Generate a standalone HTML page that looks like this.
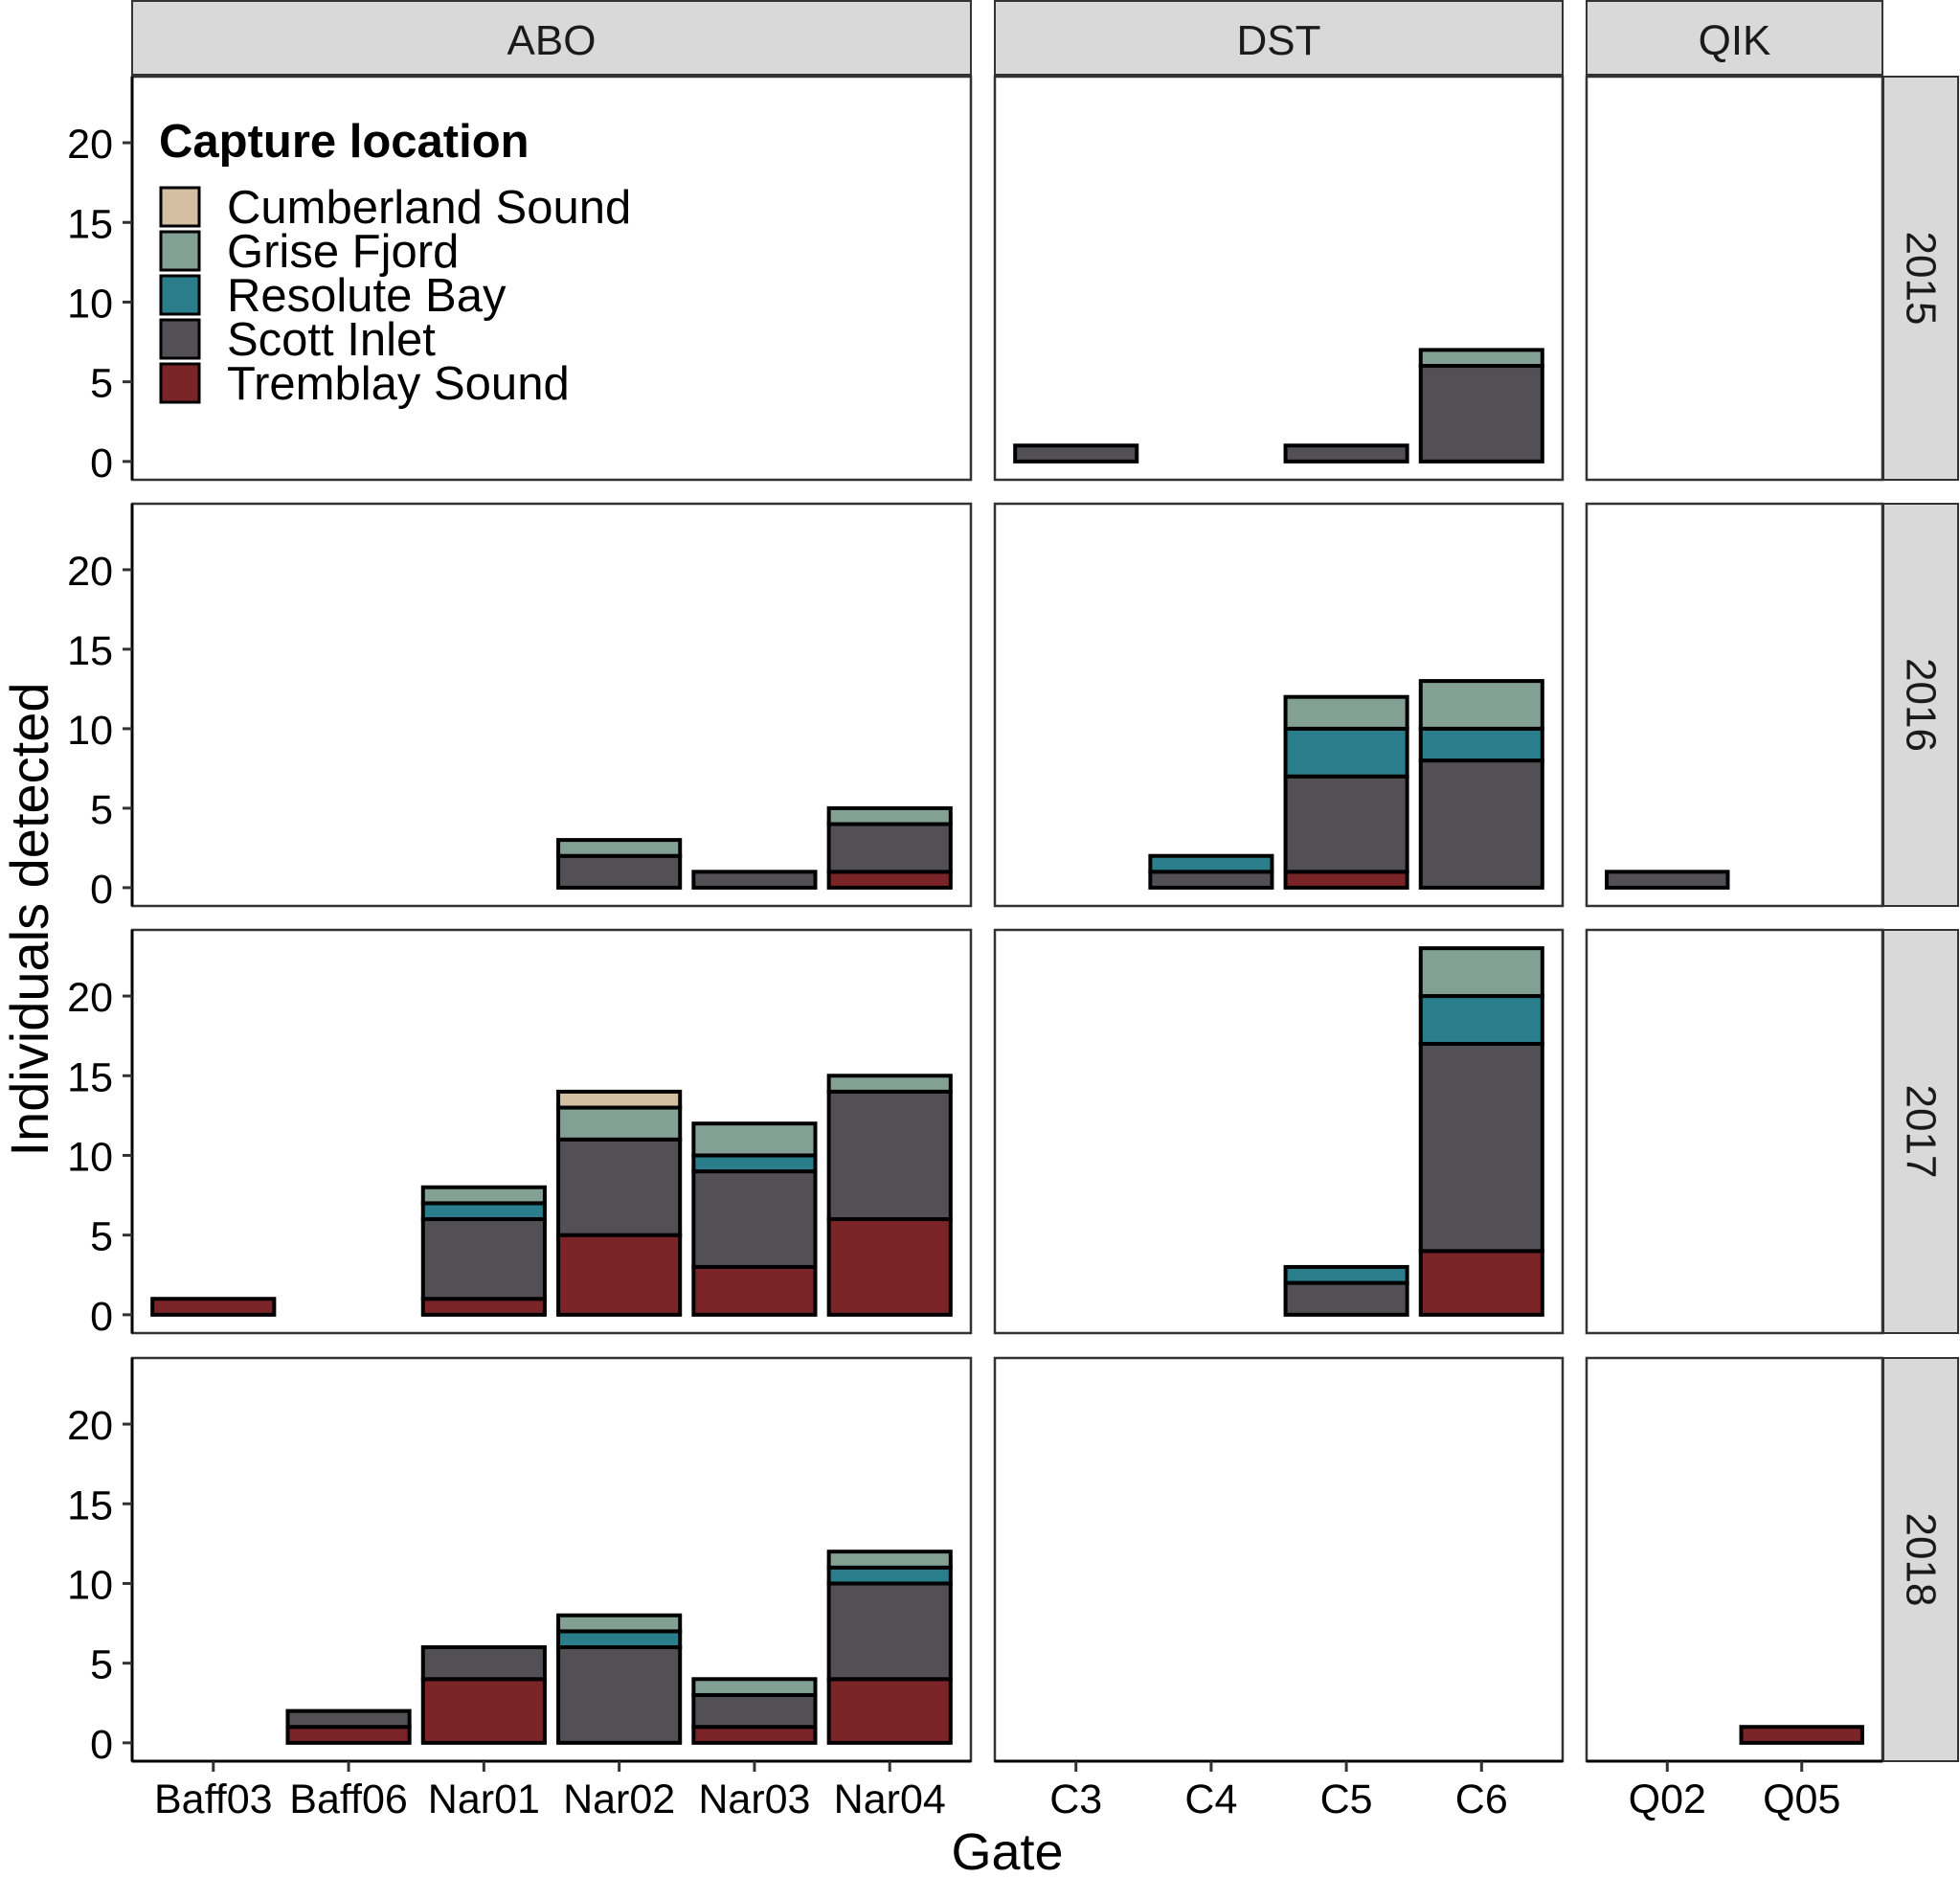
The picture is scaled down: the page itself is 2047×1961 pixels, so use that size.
<!DOCTYPE html>
<html><head><meta charset="utf-8">
<style>
html,body{margin:0;padding:0;background:#fff;}
svg{display:block;font-family:"Liberation Sans",Arial,sans-serif;}
</style></head>
<body>
<svg id="chart" width="2047" height="1961" viewBox="0 0 2047 1961" xmlns="http://www.w3.org/2000/svg"></svg>
<script>
// ---- data ----
const sites = ["ABO","DST","QIK"];
const years = ["2015","2016","2017","2018"];
const gatesABO = ["Baff03","Baff06","Nar01","Nar02","Nar03","Nar04"];
const gatesDST = ["C3","C4","C5","C6"];
const gatesQIK = ["Q02","Q05"];
const locations = ["Tremblay Sound","Scott Inlet","Resolute Bay","Grise Fjord","Cumberland Sound"];
const legendOrder = ["Cumberland Sound","Grise Fjord","Resolute Bay","Scott Inlet","Tremblay Sound"];
const yTicks = [0,5,10,15,20];
// counts per gate: [Tremblay, Scott, Resolute, Grise, Cumberland]
const abo2015 = [[0,0,0,0,0],[0,0,0,0,0],[0,0,0,0,0],[0,0,0,0,0],[0,0,0,0,0],[0,0,0,0,0]];
const dst2015 = [[0,1,0,0,0],[0,0,0,0,0],[0,1,0,0,0],[0,6,0,1,0]];
const qik2015 = [[0,0,0,0,0],[0,0,0,0,0]];
const abo2016 = [[0,0,0,0,0],[0,0,0,0,0],[0,0,0,0,0],[0,2,0,1,0],[0,1,0,0,0],[1,3,0,1,0]];
const dst2016 = [[0,0,0,0,0],[0,1,1,0,0],[1,6,3,2,0],[0,8,2,3,0]];
const qik2016 = [[0,1,0,0,0],[0,0,0,0,0]];
const abo2017 = [[1,0,0,0,0],[0,0,0,0,0],[1,5,1,1,0],[5,6,0,2,1],[3,6,1,2,0],[6,8,0,1,0]];
const dst2017 = [[0,0,0,0,0],[0,0,0,0,0],[0,2,1,0,0],[4,13,3,3,0]];
const qik2017 = [[0,0,0,0,0],[0,0,0,0,0]];
const abo2018 = [[0,0,0,0,0],[1,1,0,0,0],[4,2,0,0,0],[0,6,1,1,0],[1,2,0,1,0],[4,6,1,1,0]];
const dst2018 = [[0,0,0,0,0],[0,0,0,0,0],[0,0,0,0,0],[0,0,0,0,0]];
const qik2018 = [[0,0,0,0,0],[1,0,0,0,0]];

const colors = {"Tremblay Sound":"#7a2428","Scott Inlet":"#524f55","Resolute Bay":"#2a7d8a","Grise Fjord":"#82a094","Cumberland Sound":"#d4bfa3"};
const gateSets = [gatesABO,gatesDST,gatesQIK];
const dataGrid = [[abo2015,dst2015,qik2015],[abo2016,dst2016,qik2016],[abo2017,dst2017,qik2017],[abo2018,dst2018,qik2018]];

// ---- layout ----
const NS="http://www.w3.org/2000/svg";
const svg=document.getElementById('chart');
function mk(tag,attrs,parent){const e=document.createElementNS(NS,tag);for(const k in attrs)e.setAttribute(k,attrs[k]);(parent||svg).appendChild(e);return e;}
const colX=[[138,1014],[1039,1632],[1657,1966]];
const rowY=[[80,501],[526,946],[971,1392],[1418,1839]];
const yMin=-1.15,yMax=24.15;
function yScale(r,v){const [t,b]=rowY[r];return b-(v-yMin)/(yMax-yMin)*(b-t);}
function xScale(c,i){const [l,r]=colX[c];const n=gateSets[c].length;return l+(i+1-0.4)/(n+0.2)*(r-l);}
function bw(c){const [l,r]=colX[c];return 0.9*(r-l)/(gateSets[c].length+0.2);}

// top strips
sites.forEach((s,c)=>{
  const g=mk('g',{});
  
  
  mk('rect',{x:colX[c][0],y:1,width:colX[c][1]-colX[c][0],height:77,fill:'#d9d9d9',stroke:'#333','stroke-width':2},g);
  const t=mk('text',{x:(colX[c][0]+colX[c][1])/2,y:57,'text-anchor':'middle','font-size':44,fill:'#1a1a1a'},g);
  t.textContent=s;
});
// right strips
years.forEach((yr,r)=>{
  const g=mk('g',{});
  
  
  mk('rect',{x:1967,y:rowY[r][0],width:78,height:rowY[r][1]-rowY[r][0],fill:'#d9d9d9',stroke:'#333','stroke-width':2},g);
  const cx=2006,cy=(rowY[r][0]+rowY[r][1])/2;
  const t=mk('text',{x:cx,y:cy,'text-anchor':'middle','dominant-baseline':'central','font-size':44,fill:'#1a1a1a',transform:`rotate(90 ${cx} ${cy})`},g);
  t.textContent=yr;
});

// panels
for(let r=0;r<4;r++){
  for(let c=0;c<3;c++){
    const g=mk('g',{});
    
    
    mk('rect',{x:colX[c][0],y:rowY[r][0],width:colX[c][1]-colX[c][0],height:rowY[r][1]-rowY[r][0],fill:'#fff',stroke:'#333','stroke-width':2.5},g);
    const d=dataGrid[r][c];
    d.forEach((counts,i)=>{
      let base=0;
      counts.forEach((v,k)=>{
        if(v<=0)return;
        const y0=yScale(r,base),y1=yScale(r,base+v);
        const rc=mk('rect',{x:xScale(c,i)-bw(c)/2,y:y1,width:bw(c),height:y0-y1,fill:colors[locations[k]],stroke:'#000','stroke-width':4},g);
        
        
        base+=v;
      });
    });
  }
  // y axis
  const ya=mk('g',{});
  
  
  mk('line',{x1:138,x2:138,y1:rowY[r][0],y2:rowY[r][1],stroke:'#000','stroke-width':3},ya);
  yTicks.forEach(v=>{
    const y=yScale(r,v);
    mk('line',{x1:128,x2:138,y1:y,y2:y,stroke:'#333','stroke-width':3},ya);
    const t=mk('text',{x:118,y:y+16,'text-anchor':'end','font-size':43,fill:'#000'},ya);
    t.textContent=v;
  });
}
// x axes
gateSets.forEach((gs,c)=>{
  const xa=mk('g',{});
  
  
  mk('line',{x1:colX[c][0],x2:colX[c][1],y1:1839,y2:1839,stroke:'#000','stroke-width':3},xa);
  gs.forEach((gname,i)=>{
    const x=xScale(c,i);
    mk('line',{x1:x,x2:x,y1:1839,y2:1850,stroke:'#333','stroke-width':3},xa);
    const t=mk('text',{x:x,y:1893,'text-anchor':'middle','font-size':43,fill:'#000'},xa);
    t.textContent=gname;
  });
});
// axis titles
const xt=mk('text',{x:1052,y:1952,'text-anchor':'middle','font-size':54,fill:'#000'});
xt.textContent='Gate';


const yt=mk('text',{x:50,y:960,'text-anchor':'middle','font-size':56,fill:'#000',transform:'rotate(-90 50 960)'});
yt.textContent='Individuals detected';



// legend
const lg=mk('g',{});


const lt=mk('text',{x:166,y:164,'font-size':49,'font-weight':'bold',fill:'#000'},lg);
lt.textContent='Capture location';
legendOrder.forEach((name,i)=>{
  const cy=216+i*46;
  const e=mk('g',{},lg);
  
  
  mk('rect',{x:168,y:cy-20,width:40,height:40,fill:colors[name],stroke:'#000','stroke-width':3},e);
  const t=mk('text',{x:237,y:cy+17,'font-size':49,fill:'#000'},e);
  t.textContent=name;
});
</script>
</body></html>
